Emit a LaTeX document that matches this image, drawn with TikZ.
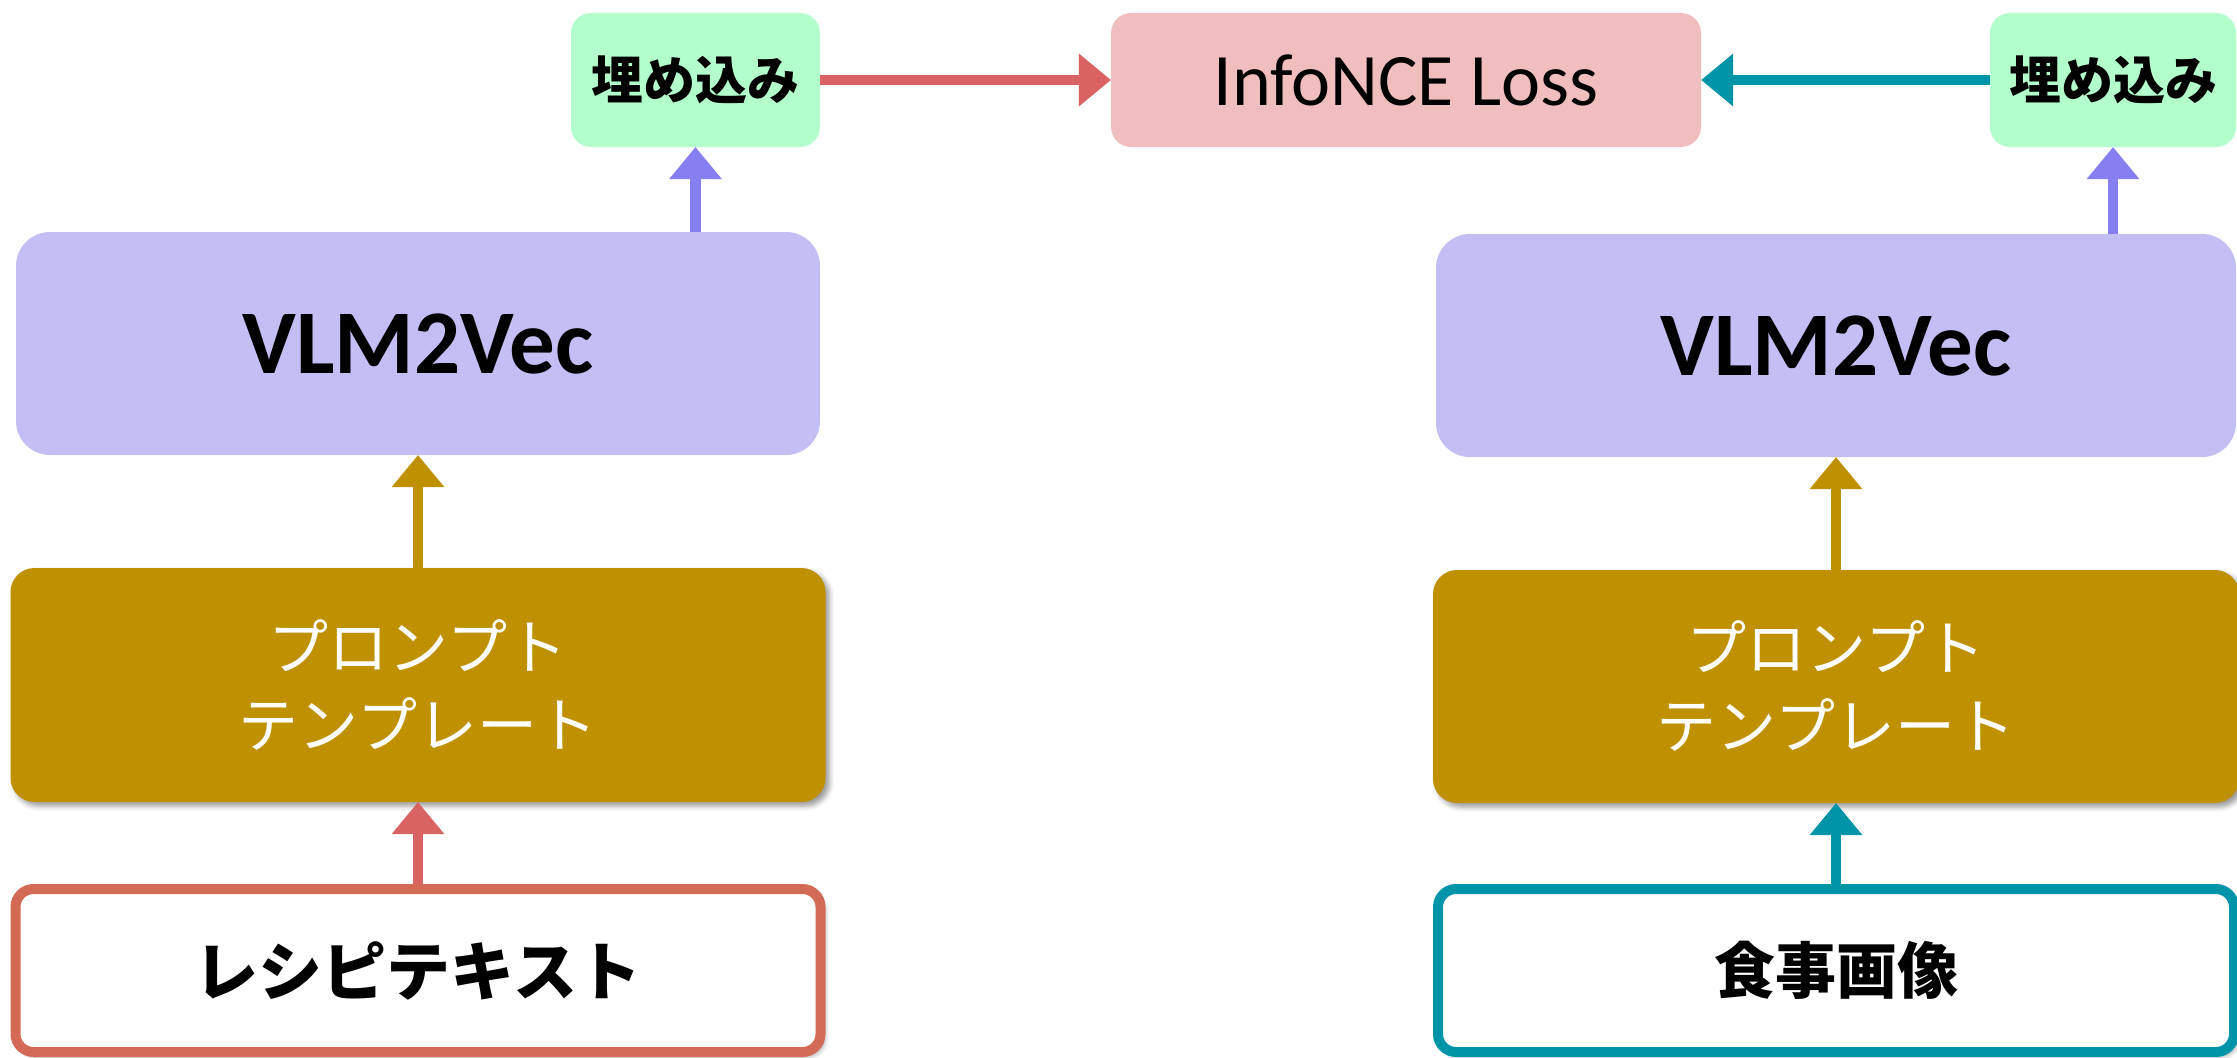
\documentclass[tikz,border=0pt]{standalone}
\usepackage{fontspec}
\setmainfont{Carlito}
\newfontfamily\jp{Noto Sans CJK JP}
\usetikzlibrary{arrows.meta,shadows.blur}

\definecolor{embgreen}{HTML}{B3FFCC}
\definecolor{losspink}{HTML}{F0BEBF}
\definecolor{vlmlilac}{HTML}{C3BEF3}
\definecolor{vlmarrow}{HTML}{877EF2}
\definecolor{tplgold}{HTML}{BF9000}
\definecolor{txtred}{HTML}{D96262}
\definecolor{txtborder}{HTML}{D36A55}
\definecolor{imgteal}{HTML}{0094A8}

\tikzset{
  shade box/.style={blur shadow={shadow xshift=4pt,shadow yshift=-4pt,
      shadow blur radius=5pt,shadow opacity=40}},
  flow/.style={draw,line width=10.5pt,
      -{Triangle[width=53pt,length=32pt,line width=0pt]}}
}

\begin{document}
\begin{tikzpicture}[x=1pt,y=-1pt]
\useasboundingbox (0,0) rectangle (2237,1057);

        \begin{scope}[every node/.style={inner sep=0pt,align=center}]
          % top row
          \node[fill=embgreen,rounded corners=20pt,minimum width=249pt,minimum height=134pt,
                font=\jp\bfseries\fontsize{52}{60}\selectfont] (embL) at (695.5,80) {埋め込み};
          \node[fill=losspink,rounded corners=20pt,minimum width=590pt,minimum height=134pt,
                font=\fontsize{74}{90}\selectfont] (loss) at (1406,80) {InfoNCE Loss};
          \node[fill=embgreen,rounded corners=20pt,minimum width=246pt,minimum height=134pt,
                font=\jp\bfseries\fontsize{52}{60}\selectfont] (embR) at (2113,80) {埋め込み};

          % encoders
          \node[fill=vlmlilac,rounded corners=34pt,minimum width=804pt,minimum height=223pt,
                font=\bfseries\fontsize{91}{110}\selectfont] (vlmL) at (418,343.5) {VLM2Vec};
          \node[fill=vlmlilac,rounded corners=34pt,minimum width=800pt,minimum height=223pt,
                font=\bfseries\fontsize{91}{110}\selectfont] (vlmR) at (1836,345.5) {VLM2Vec};

          % templates
          \node[fill=tplgold,shade box,rounded corners=24pt,minimum width=815pt,minimum height=234pt,
                text=white,font=\jp\fontsize{60}{78}\selectfont] (tplL) at (418,685) {プロンプト\\テンプレート};
          \node[fill=tplgold,shade box,rounded corners=24pt,minimum width=806pt,minimum height=233pt,
                text=white,font=\jp\fontsize{60}{78}\selectfont] (tplR) at (1836,686.5) {プロンプト\\テンプレート};

          % inputs
          \node[draw=txtborder,line width=10pt,fill=white,shade box,rounded corners=18pt,
                minimum width=805pt,minimum height=163pt,
                font=\jp\bfseries\fontsize{64}{72}\selectfont] (recipe) at (418,970.5) {レシピテキスト};
          \node[draw=imgteal,line width=10pt,fill=white,shade box,rounded corners=18pt,
                minimum width=796pt,minimum height=163pt,
                font=\jp\bfseries\fontsize{61}{70}\selectfont] (meal) at (1836,970.5) {食事画像};
        \end{scope}

        \begin{scope}[every edge/.style={flow}]
          \path (recipe) edge[txtred] (tplL);
          \path (meal)   edge[imgteal] (tplR);
          \path (tplL)   edge[tplgold] (vlmL);
          \path (tplR)   edge[tplgold] (vlmR);
          \path (vlmL.north -| embL) edge[vlmarrow] (embL);
          \path (vlmR.north -| embR) edge[vlmarrow] (embR);
          \path (embL)   edge[txtred] (loss);
          \path (embR)   edge[imgteal] (loss);
        \end{scope}

\end{tikzpicture}
\end{document}
